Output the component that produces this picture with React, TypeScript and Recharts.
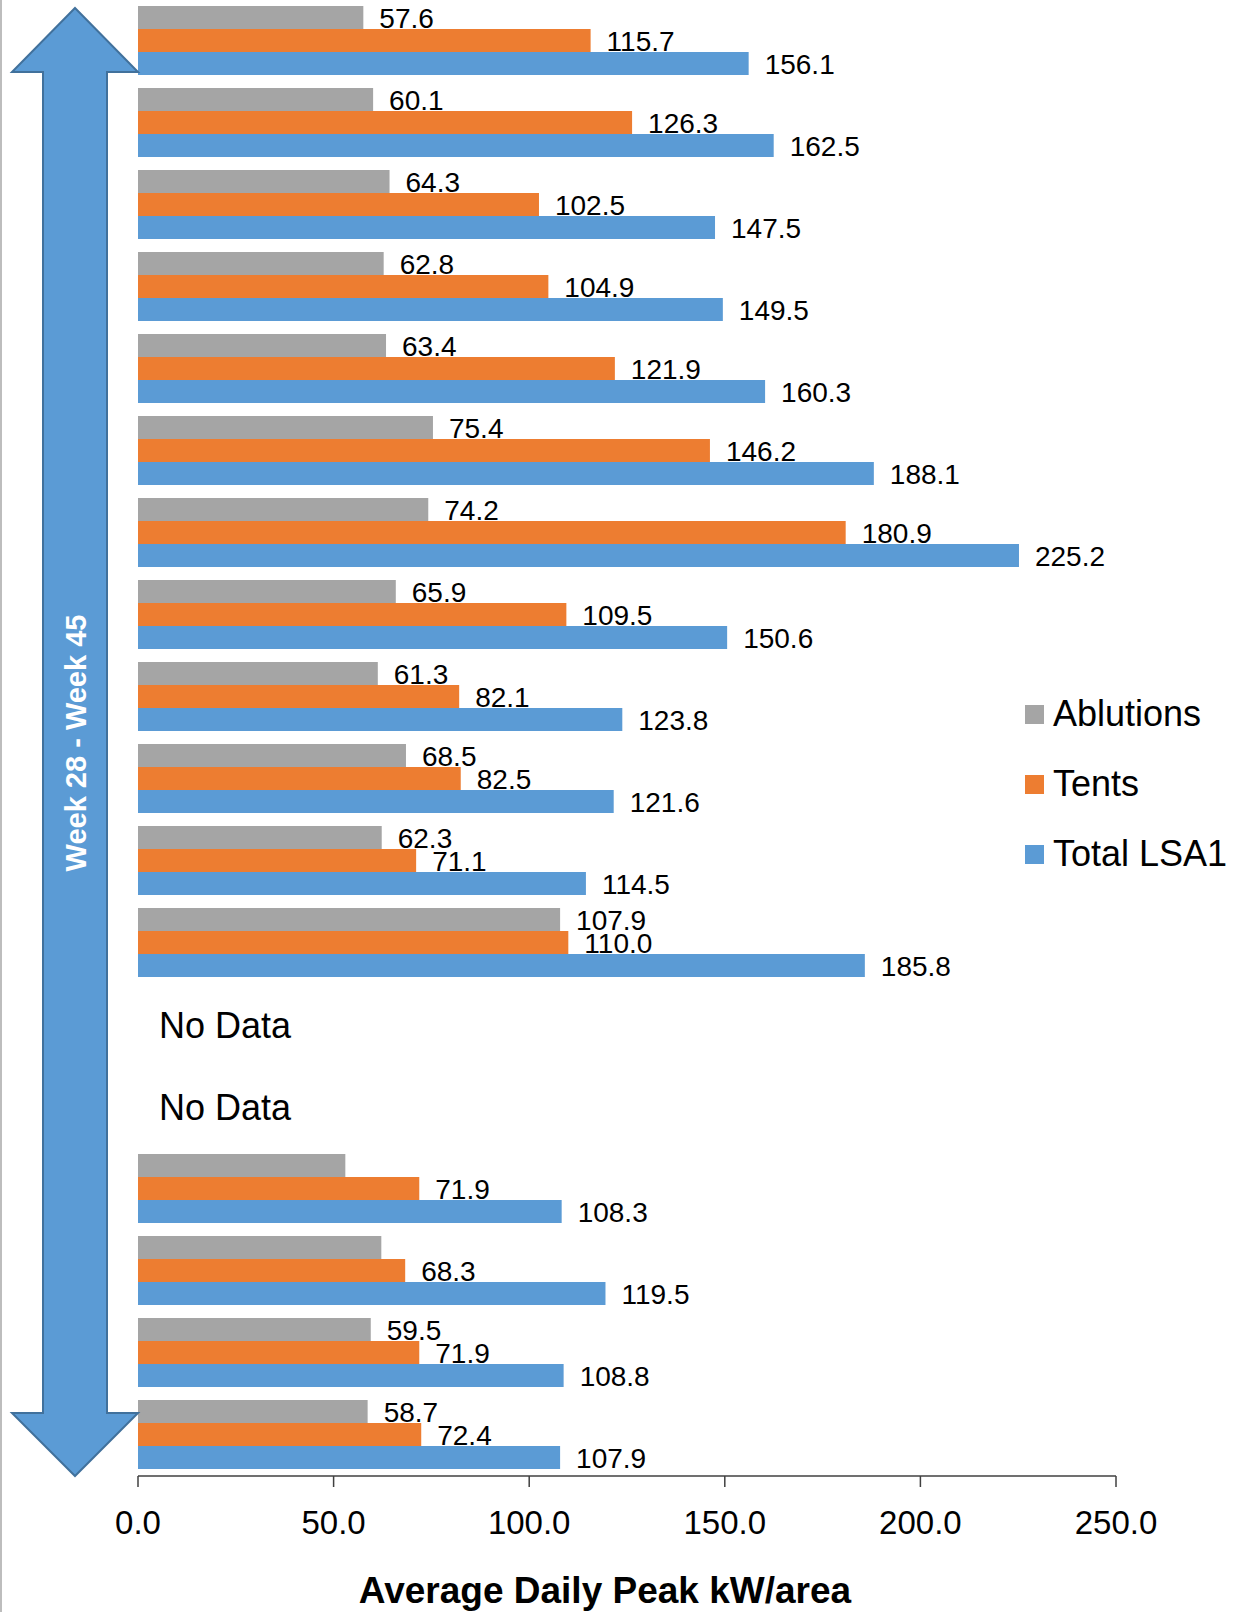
import { Bar, BarChart, LabelList, XAxis, YAxis } from "recharts"

const weeks = [
  "Week 28", "Week 29", "Week 30", "Week 31", "Week 32", "Week 33",
  "Week 34", "Week 35", "Week 36", "Week 37", "Week 38", "Week 39",
  "Week 40", "Week 41", "Week 42", "Week 43", "Week 44", "Week 45",
]

const ablutions = [
  57.6, 60.1, 64.3, 62.8, 63.4, 75.4, 74.2, 65.9, 61.3, 68.5, 62.3, 107.9,
  null, null, 53.0, 62.2, 59.5, 58.7,
]

// weeks 42 and 43 have no label on the ablutions bar in the original
const ablutionsLabelShown = [
  true, true, true, true, true, true, true, true, true, true, true, true,
  true, true, false, false, true, true,
]

const tents = [
  115.7, 126.3, 102.5, 104.9, 121.9, 146.2, 180.9, 109.5, 82.1, 82.5, 71.1, 110.0,
  null, null, 71.9, 68.3, 71.9, 72.4,
]

const totalLsa1 = [
  156.1, 162.5, 147.5, 149.5, 160.3, 188.1, 225.2, 150.6, 123.8, 121.6, 114.5, 185.8,
  null, null, 108.3, 119.5, 108.8, 107.9,
]

const xTicks = [0, 50, 100, 150, 200, 250]

const series = [
  { key: "ablutions", name: "Ablutions", color: "#A5A5A5" },
  { key: "tents", name: "Tents", color: "#ED7D31" },
  { key: "total", name: "Total LSA1", color: "#5B9BD5" },
]

const rows = weeks.map((week, i) => ({
  week,
  ablutions: ablutions[i],
  ablutionsLabel: ablutionsLabelShown[i] ? ablutions[i] : null,
  tents: tents[i],
  total: totalLsa1[i],
  noData: totalLsa1[i] == null,
}))

const FONT = "'Liberation Sans', Arial, sans-serif"
const PLOT_LEFT = 138

const renderLabel = (props: any) => {
  const { x, y, width, height, value } = props
  if (value == null) return null
  return (
    <text
      x={Number(x) + Number(width) + 16}
      y={Number(y) + Number(height) / 2 + 1}
      fontSize={28}
      fontFamily={FONT}
      fill="#000"
      dominantBaseline="central"
    >
      {Number(value).toFixed(1)}
    </text>
  )
}

const renderNoDataTick = (props: any) => {
  const { y, payload } = props
  const row = rows.find((r) => r.week === payload?.value)
  if (!row || !row.noData) return <g />
  return (
    <text x={PLOT_LEFT + 21} y={y} fontSize={36} fontFamily={FONT} fill="#000" dominantBaseline="central">
      No Data
    </text>
  )
}

export default function App() {
  return (
    <div style={{ position: "absolute", left: 0, top: 0, width: 1244, height: 1612, background: "#fff" }}>
      <BarChart
        width={1244}
        height={1612}
        data={rows}
        layout="vertical"
        margin={{ top: 0, right: 128, bottom: 0, left: PLOT_LEFT - 1 }}
        barCategoryGap={6}
        barGap={0}
      >
        <XAxis
          type="number"
          domain={[0, 250]}
          ticks={xTicks}
          height={136}
          tickFormatter={(v) => Number(v).toFixed(1)}
          tick={{ fontSize: 33, fontFamily: FONT, fill: "#000" }}
          tickSize={11}
          tickMargin={24}
          stroke="#404040"
          strokeWidth={1.5}
        />
        <YAxis
          type="category"
          dataKey="week"
          width={1}
          axisLine={false}
          tickLine={false}
          interval={0}
          tick={renderNoDataTick}
        />
        <Bar dataKey="ablutions" name="Ablutions" fill="#A5A5A5" isAnimationActive={false}>
          <LabelList dataKey="ablutionsLabel" content={renderLabel} />
        </Bar>
        <Bar dataKey="tents" name="Tents" fill="#ED7D31" isAnimationActive={false}>
          <LabelList dataKey="tents" content={renderLabel} />
        </Bar>
        <Bar dataKey="total" name="Total LSA1" fill="#5B9BD5" isAnimationActive={false}>
          <LabelList dataKey="total" content={renderLabel} />
        </Bar>
      </BarChart>
      <div style={{ position: "absolute", left: 1025, top: 679, fontFamily: FONT, fontSize: 36, color: "#000" }}>
        {series.map((s) => (
          <div key={s.key} style={{ height: 70, display: "flex", alignItems: "center", whiteSpace: "nowrap" }}>
            <span style={{ width: 19, height: 19, background: s.color, marginRight: 9, display: "inline-block" }} />
            <span>{s.name}</span>
          </div>
        ))}
      </div>
      <svg
        width={1244}
        height={1612}
        style={{ position: "absolute", left: 0, top: 0, pointerEvents: "none" }}
      >
        <rect x={0} y={0} width={2} height={1612} fill="#BDBDBD" />
        <polygon
          points="75,8 138,72 107,72 107,1413 138,1413 75,1476 12,1413 43,1413 43,72 12,72"
          fill="#5B9BD5"
          stroke="#41719C"
          strokeWidth={2}
          strokeLinejoin="miter"
        />
        <text
          x={86}
          y={743}
          transform="rotate(-90 86 743)"
          textAnchor="middle"
          fontSize={29}
          fontWeight="bold"
          fontFamily={FONT}
          fill="#fff"
        >
          Week 28 - Week 45
        </text>
        <text x={605} y={1603} textAnchor="middle" fontSize={37} fontWeight="bold" fontFamily={FONT} fill="#000">
          Average Daily Peak kW/area
        </text>
      </svg>
    </div>
  )
}
